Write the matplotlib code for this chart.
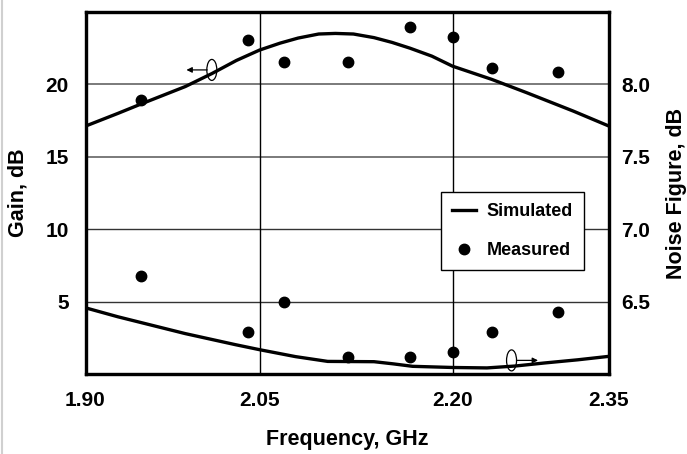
import numpy as np
import matplotlib
matplotlib.use("Agg")
import matplotlib.pyplot as plt
from matplotlib.patches import Ellipse
from matplotlib.lines import Line2D
from matplotlib.transforms import ScaledTranslation

# Gain / noise figure of the amplifier
# -------------------------------------------------------------------
# measured points (GHz, dB)
freq_meas = [1.948, 2.040, 2.069, 2.119, 2.167, 2.200, 2.2375, 2.301]
gain_meas = [18.91, 23.06, 21.54, 21.54, 23.99, 23.30, 21.15, 20.85]
nf_meas = [6.68, 6.29, 6.50, 6.12, 6.12, 6.15, 6.29, 6.43]

# simulated gain curve
freq_gain_sim = [1.900, 1.928, 1.948, 1.986, 2.009, 2.030, 2.050, 2.066, 2.080,
                 2.096, 2.109, 2.123, 2.139, 2.153, 2.167, 2.184, 2.200, 2.2375,
                 2.271, 2.316, 2.350]
gain_sim = [17.12, 18.00, 18.65, 19.85, 20.75, 21.65, 22.37, 22.85, 23.20,
            23.48, 23.52, 23.48, 23.23, 22.90, 22.50, 21.95, 21.26, 20.35,
            19.43, 18.15, 17.12]

# simulated noise figure curve
freq_nf_sim = [1.900, 1.928, 1.986, 2.029, 2.050, 2.078, 2.103, 2.139, 2.154,
               2.169, 2.200, 2.233, 2.260, 2.288, 2.320, 2.350]
nf_sim = [6.457, 6.395, 6.279, 6.203, 6.168, 6.120, 6.087, 6.085, 6.070,
          6.053, 6.045, 6.042, 6.055, 6.076, 6.098, 6.122]

x_ticks = [1.90, 2.05, 2.20, 2.35]
gain_ticks = [5, 10, 15, 20]
nf_ticks = [6.5, 7.0, 7.5, 8.0]

# the grid of the source figure is not evenly spaced: relative spans
grid_span = [0.0, 174.0, 367.0, 523.5]

# piecewise-linear frequency scale (with linear extension at both ends)
kf = np.array([1.0] + x_ticks + [3.0])
s0 = (grid_span[1] - grid_span[0]) / 0.15
s1 = (grid_span[3] - grid_span[2]) / 0.15
kp = np.array([grid_span[0] - 0.9 * s0] + grid_span + [grid_span[3] + 0.65 * s1])


def fwd(f):
    return np.interp(f, kf, kp)


def inv(p):
    return np.interp(p, kp, kf)


plt.rcParams['font.family'] = ['Liberation Sans', 'DejaVu Sans']
plt.rcParams['font.weight'] = 'bold'

fig = plt.figure(figsize=(6.87, 4.54), dpi=100)
ax = fig.add_axes([85.5 / 687, 1 - 374 / 454, (609 - 85.5) / 687, (374 - 12) / 454])
ax.set_xscale('function', functions=(fwd, inv))
ax.set_xlim(1.90, 2.35)
ax.set_ylim(0, 25)

ax2 = ax.twinx()
ax2.set_ylim(6.0, 8.5)

# grid lines
for g in gain_ticks:
    if g >= 15:
        ax.axhline(g, color='#7a7a7a', lw=1.4, zorder=0)
    else:
        ax.axhline(g, color='#333333', lw=1.0, zorder=0)
for f in x_ticks[1:-1]:
    ax.axvline(f, color='black', lw=1.0, zorder=0)

# gain
ax.plot(freq_gain_sim, gain_sim, color='black', lw=2.4, zorder=3,
        solid_joinstyle='round')
ax.plot(freq_meas, gain_meas, 'o', color='black', ms=7.5, zorder=4)

# noise figure
ax2.plot(freq_nf_sim, nf_sim, color='black', lw=2.4, zorder=3,
         solid_joinstyle='round')
ax2.plot(freq_meas, nf_meas, 'o', color='black', ms=7.5, zorder=4)

# axis markers (ellipse + arrow)
def axis_marker(a, xc, yc, x_from, x_to):
    tr = fig.dpi_scale_trans + ScaledTranslation(xc, yc, a.transData)
    a.add_patch(Ellipse((0, 0), 0.10, 0.21, transform=tr, fill=False,
                        ec='black', lw=0.9, zorder=5))
    a.annotate('', xy=(x_to, yc), xytext=(x_from, yc),
               arrowprops=dict(arrowstyle='-|>', color='black', lw=0.9,
                               mutation_scale=8, shrinkA=0, shrinkB=0),
               zorder=5)

axis_marker(ax, 2.0089, 21.0, 2.0049, 1.987)
axis_marker(ax2, 2.2566, 6.094, 2.2613, 2.282)

# ticks and labels
ax.set_xticks(x_ticks)
ax.set_xticklabels(['%.2f' % v for v in x_ticks])
ax.set_yticks(gain_ticks)
ax.set_yticklabels([str(v) for v in gain_ticks])
ax2.set_yticks(nf_ticks)
ax2.set_yticklabels(['%.1f' % v for v in nf_ticks])
ax.xaxis.set_minor_locator(matplotlib.ticker.NullLocator())
for a in (ax, ax2):
    a.tick_params(length=0, labelsize=15)
ax.tick_params(axis='y', pad=12)
ax.tick_params(axis='x', pad=12)
ax2.tick_params(axis='y', pad=9)

ax.set_xlabel('Frequency, GHz', fontsize=15.5, fontweight='bold', labelpad=14)
ax.set_ylabel('Gain, dB', fontsize=15.5, fontweight='bold', labelpad=12)
ax2.set_ylabel('Noise Figure, dB', fontsize=15.5, fontweight='bold', labelpad=11)

for a in (ax, ax2):
    for sp in a.spines.values():
        sp.set_linewidth(2.3)

handles = [Line2D([], [], color='black', lw=2.4),
           Line2D([], [], ls='none', marker='o', color='black', ms=7.5)]
leg = ax2.legend(handles, ['Simulated', 'Measured'], loc='upper right',
                 bbox_to_anchor=(583.5 / 687, 1 - 192 / 454),
                 bbox_transform=fig.transFigure, borderaxespad=0,
                 fontsize=13, frameon=True, fancybox=False, framealpha=1,
                 edgecolor='black', handlelength=1.3, handletextpad=0.6,
                 labelspacing=1.25, borderpad=0.6)
leg.get_frame().set_linewidth(1.0)
leg.set_zorder(10)
for t in leg.get_texts():
    t.set_fontweight('bold')

# light frame line at the left edge of the picture
fig.add_artist(Line2D([1.5 / 687, 1.5 / 687], [0, 1], color='#d0d0d0', lw=1.5,
                      transform=fig.transFigure))

fig.savefig('out.png', dpi=100)
